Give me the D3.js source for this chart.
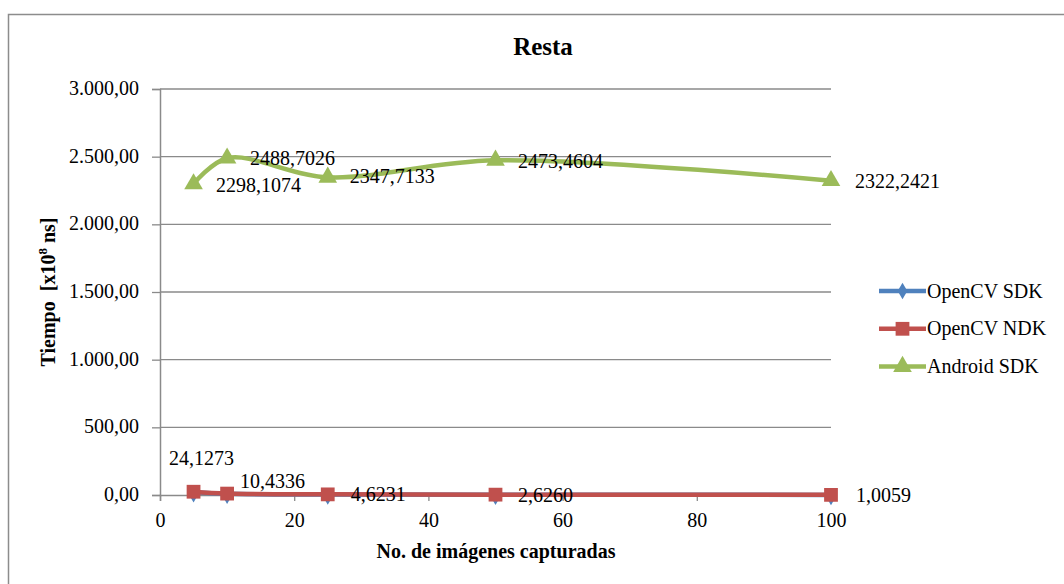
<!DOCTYPE html>
<html><head><meta charset="utf-8">
<script src="https://cdn.jsdelivr.net/npm/d3@7/dist/d3.min.js"></script>
</head><body style="margin:0"><svg width="1064" height="584" font-family="Liberation Serif"></svg>
<script>
const xValues = [5, 10, 25, 50, 100];
const seriesNames = ["OpenCV SDK", "OpenCV NDK", "Android SDK"];
const opencvSdk = [20.5, 8.9, 3.9, 2.2, 0.85];
const opencvNdk = [24.1273, 10.4336, 4.6231, 2.6260, 1.0059];
const androidSdk = [2298.1074, 2488.7026, 2347.7133, 2473.4604, 2322.2421];
const xTicks = [0, 20, 40, 60, 80, 100];
const yTicks = [0, 500, 1000, 1500, 2000, 2500, 3000];
const colors = ["#4F81BD", "#C0504D", "#9BBB59"];

const FONT = "Liberation Serif";
const FS = 20;
const svg = d3.select("svg");
const W = 1064, H = 584;
const m = {left: 160, right: 1064 - 831, top: 89, bottom: 584 - 495};
const x = d3.scaleLinear().domain([0, 100]).range([m.left, W - m.right]);
const y = d3.scaleLinear().domain([0, 3000]).range([H - m.bottom, m.top]);
const loc = d3.formatLocale({decimal: ",", thousands: ".", grouping: [3], currency: ["", ""]});
const yFmt = loc.format(",.2f");
const lblFmt = loc.format(".4f");

// outer border
svg.append("rect").attr("x", 8.5).attr("y", 14.5).attr("width", 1100).attr("height", 600)
  .attr("fill", "none").attr("stroke", "#8c8c8c").attr("stroke-width", 1.5);

// gridlines
svg.append("g").selectAll("line").data(yTicks.filter(d => d > 0)).join("line")
  .attr("x1", x(0)).attr("x2", x(100)).attr("y1", d => y(d)).attr("y2", d => y(d))
  .attr("stroke", "#8a8a8a").attr("stroke-width", 1.3);

// y axis
const yAxis = svg.append("g").attr("transform", `translate(${x(0)},0)`)
  .call(d3.axisLeft(y).tickValues(yTicks).tickFormat(yFmt).tickSize(8).tickPadding(13))
  .attr("font-family", FONT).attr("font-size", FS);
yAxis.select(".domain").attr("stroke", "#8a8a8a").attr("stroke-width", 1.5);
yAxis.selectAll(".tick line").attr("stroke", "#8a8a8a").attr("stroke-width", 1.3);
yAxis.selectAll(".tick text").attr("fill", "#000").attr("dy", "0.28em");

// x axis
const xAxis = svg.append("g").attr("transform", `translate(0,${y(0)})`)
  .call(d3.axisBottom(x).tickValues(xTicks).tickFormat(d3.format("d")).tickSize(6).tickPadding(12))
  .attr("font-family", FONT).attr("font-size", FS);
xAxis.select(".domain").attr("stroke", "#8a8a8a").attr("stroke-width", 1.5);
xAxis.selectAll(".tick line").attr("stroke", "#8a8a8a").attr("stroke-width", 1.3);
xAxis.selectAll(".tick text").attr("fill", "#000");

// titles
svg.append("text").attr("x", 543).attr("y", 55).attr("text-anchor", "middle").attr("font-family", FONT)
  .attr("font-size", 25).attr("font-weight", "bold").text("Resta");
svg.append("text").attr("x", 496).attr("y", 558).attr("text-anchor", "middle").attr("font-family", FONT)
  .attr("font-size", FS).attr("font-weight", "bold").text("No. de imágenes capturadas");
const yt = svg.append("text").attr("transform", "translate(55,292) rotate(-90)").attr("font-family", FONT)
  .attr("text-anchor", "middle").attr("font-size", FS).attr("font-weight", "bold").style("white-space", "pre");
yt.append("tspan").text("Tiempo  [x10");
yt.append("tspan").attr("font-size", 13).attr("dy", -8).text("8");
yt.append("tspan").attr("dy", 8).text(" ns]");

const series = [opencvSdk, opencvNdk, androidSdk];
const curves = [d3.curveCatmullRom, d3.curveCatmullRom, d3.curveCatmullRom.alpha(0.5)];
const diamond = d3.symbol().type(d3.symbolDiamond).size(80);
const square = d3.symbol().type(d3.symbolSquare).size(190);
const triangle = d3.symbol().type(d3.symbolTriangle).size(150);
const shapes = [diamond, square, triangle];

series.forEach((vals, i) => {
  const pts = xValues.map((xv, j) => [xv, vals[j]]);
  const line = d3.line().x(d => x(d[0])).y(d => y(d[1])).curve(curves[i]);
  svg.append("path").datum(pts).attr("d", line).attr("fill", "none")
    .attr("stroke", colors[i]).attr("stroke-width", 4.5).attr("stroke-linejoin", "round");
  svg.append("g").selectAll("path").data(pts).join("path")
    .attr("transform", d => `translate(${x(d[0])},${y(d[1]) + (i === 0 ? 2 : 0)})`)
    .attr("d", shapes[i]()).attr("fill", colors[i]);
});

// data labels
const ndkOffsets = [[-24.5, -26.5], [13, -5.5], [23, 7], [22.5, 7.5], [25, 6.8]];
svg.append("g").selectAll("text").data(xValues).join("text")
  .attr("font-family", FONT)
  .attr("x", (d, j) => x(d) + ndkOffsets[j][0])
  .attr("y", (d, j) => y(opencvNdk[j]) + ndkOffsets[j][1])
  .attr("font-size", FS).text((d, j) => lblFmt(opencvNdk[j]));
const andOffsets = [[22.5, 8], [23, 7], [22, 6], [22.5, 7.5], [24, 7.3]];
svg.append("g").selectAll("text").data(xValues).join("text")
  .attr("font-family", FONT)
  .attr("x", (d, j) => x(d) + andOffsets[j][0])
  .attr("y", (d, j) => y(androidSdk[j]) + andOffsets[j][1])
  .attr("font-size", FS).text((d, j) => lblFmt(androidSdk[j]));

// legend
const lg = svg.append("g").selectAll("g").data(seriesNames).join("g")
  .attr("transform", (d, i) => `translate(879,${291 + i * 37.8})`);
lg.append("line").attr("x1", 0).attr("x2", 47).attr("stroke", (d, i) => colors[i]).attr("stroke-width", 4.5);
lg.append("path").attr("transform", "translate(23.5,0)").attr("d", (d, i) => shapes[i]()).attr("fill", (d, i) => colors[i]);
lg.append("text").attr("x", 48).attr("y", 6.5).attr("font-family", FONT).attr("font-size", FS).text(d => d);
</script></body></html>
